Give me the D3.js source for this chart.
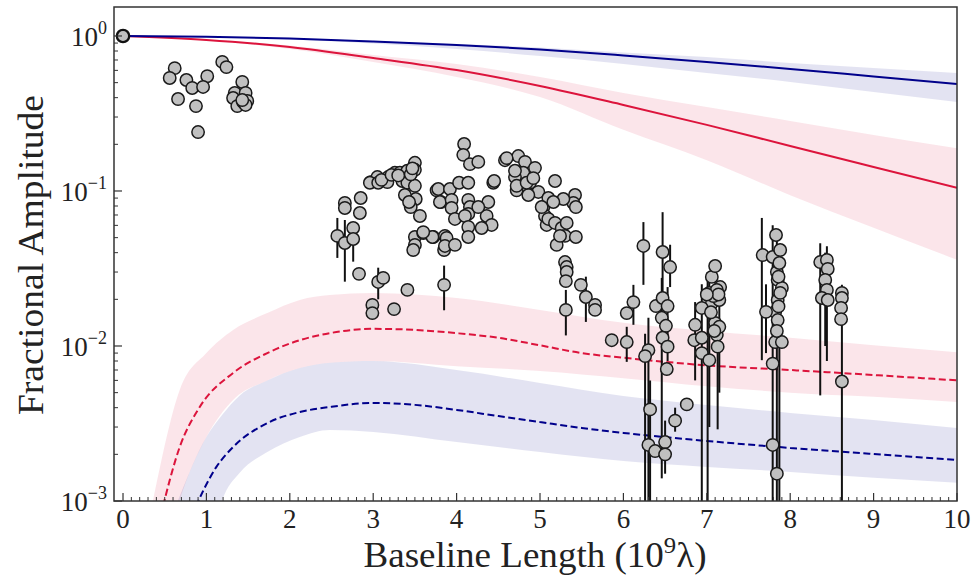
<!DOCTYPE html>
<html><head><meta charset="utf-8">
<script src="https://cdn.jsdelivr.net/npm/d3@7"></script>
<style>
body{margin:0;background:#fff}
svg{display:block}
text{font-family:"Liberation Serif","Times New Roman",serif;fill:#222}
</style>
</head><body>
<svg id="chart" width="972" height="579"></svg>
<script>
// ---------------- data ----------------
const xTicks = [0,1,2,3,4,5,6,7,8,9,10];
const yTickExponents = [0,-1,-2,-3];

// solid model curves (and their shaded ranges)
const solidX   = [0,1,2,3,4,5,6,7,8,9,10];
const blueLine = [1,0.988,0.963,0.922,0.875,0.818,0.749,0.68,0.613,0.548,0.49];
const blueHi   = [1,0.99,0.966,0.928,0.888,0.843,0.783,0.732,0.67,0.622,0.577];
const blueLo   = [1,0.985,0.949,0.895,0.824,0.743,0.66,0.577,0.505,0.435,0.375];
const redLine  = [1,0.942,0.849,0.721,0.603,0.476,0.359,0.267,0.195,0.143,0.105];
const redHi    = [1,0.949,0.868,0.754,0.66,0.544,0.429,0.348,0.283,0.23,0.189];
const redLo    = [1,0.935,0.824,0.68,0.544,0.404,0.248,0.158,0.094,0.058,0.036];

// dashed model curves
const redDashX = [0.45,0.68,0.92,1.32,1.73,2.12,2.48,3,3.5,4,4.5,5,5.5,6,7,8,9,10];
const redDash  = [0.0008,0.00223,0.00404,0.0067,0.009,0.0109,0.0121,0.0129,0.0127,0.0121,0.0113,0.0101,0.009,0.0084,0.0075,0.007,0.0065,0.006];
const blueDashX = [0.82,1.12,1.32,1.73,2.12,2.48,3,3.5,4,4.5,5,5.5,6,7,8,9,10];
const blueDash  = [0.0008,0.00166,0.00223,0.00318,0.00375,0.00404,0.00429,0.00417,0.00387,0.00353,0.00323,0.00296,0.00275,0.00244,0.0022,0.00201,0.00184];

// dashed shaded ranges
const redBandX  = [0.36,0.68,1.0,1.32,1.73,2.12,2.48,3,4,5,6,7,8,9,10];
const redBandHi = [0.00101,0.0052,0.009,0.0127,0.0163,0.0198,0.0213,0.022,0.0204,0.0171,0.0141,0.0125,0.0113,0.0101,0.0091];
const redBandLo = [0.0002,0.00101,0.00259,0.00449,0.006,0.0072,0.0078,0.008,0.0074,0.0069,0.0062,0.0055,0.005,0.0047,0.00435];
const blueBandX  = [0.66,1.0,1.19,1.4,1.73,2.12,2.48,3,4,5,6,7,8,9,10];
const blueBandHi = [0.00101,0.00259,0.0036,0.0048,0.006,0.0072,0.0078,0.008,0.007,0.00577,0.00476,0.00416,0.0037,0.00333,0.00296];
const blueBandLo = [0.0001,0.0004,0.00101,0.00152,0.00207,0.00259,0.00287,0.00279,0.0024,0.00207,0.00181,0.00166,0.00154,0.00141,0.00131];

// measured amplitudes [baseline, amplitude]
const zeroPoint = [0, 1.0];
const amplitudes = [
 [0.62,0.62],[0.56,0.536],[0.76,0.52],[1.01,0.55],[0.83,0.462],[0.96,0.469],[0.66,0.392],[0.875,0.353],[0.90,0.24],
 [1.19,0.68],[1.24,0.63],[1.43,0.505],[1.34,0.429],[1.47,0.429],[1.32,0.398],[1.37,0.353],[1.44,0.375],[1.49,0.381],[1.47,0.359],[1.43,0.386],
 [2.66,0.0837],[2.66,0.0777],[2.85,0.0901],[2.84,0.0721],[2.57,0.0513],[2.66,0.0462],[2.76,0.0577],[2.76,0.049],[2.83,0.0292],
 [3.06,0.0259],[3.12,0.0275],[2.99,0.0184],[2.99,0.0163],[3.25,0.0173],[3.41,0.023],
 [2.97,0.114],[3.05,0.123],[2.96,0.113],[3.18,0.123],[3.26,0.131],[3.32,0.131],[3.41,0.135],[3.50,0.152],[3.50,0.137],
 [3.17,0.114],[3.06,0.113],[3.35,0.116],[3.41,0.113],[3.50,0.108],[3.51,0.0888],[3.45,0.0788],[3.56,0.069],[3.38,0.0942],
 [3.43,0.0849],[3.50,0.0505],[3.60,0.0536],[3.72,0.0505],[3.50,0.0449],[3.48,0.0416],
 [3.10,0.118],[3.22,0.127],[3.30,0.126],[3.45,0.128],[3.47,0.14],
 [3.76,0.101],[3.81,0.0849],[3.86,0.0513],[3.85,0.0416],[3.85,0.0248],
 [4.09,0.201],[4.08,0.171],[4.16,0.149],[4.26,0.154],
 [3.78,0.103],[3.92,0.103],[4.03,0.113],[4.14,0.113],[3.80,0.0849],[3.94,0.0875],[3.94,0.0777],
 [4.14,0.0875],[4.16,0.0788],[4.14,0.0711],[3.98,0.066],[4.10,0.069],
 [4.38,0.0849],[4.36,0.069],[4.42,0.0604],[4.30,0.0577],[4.26,0.0788],[4.44,0.113],[4.45,0.116],
 [3.71,0.0505],[3.60,0.0543],[3.88,0.0498],[3.86,0.0442],[3.98,0.0449],[4.14,0.0586],[4.14,0.0505],
 [4.58,0.158],[4.74,0.168],[4.82,0.154],[4.94,0.141],[4.80,0.131],[4.70,0.123],[4.88,0.113],[4.98,0.0986],[4.72,0.101],
 [4.86,0.0942],[5.04,0.0788],[5.06,0.069],[5.08,0.0604],
 [4.60,0.163],[4.70,0.135],[4.72,0.108],[4.84,0.113],[4.92,0.121],[5.10,0.0901],[5.18,0.116],[5.02,0.0788],
 [5.10,0.066],[5.18,0.0622],[5.26,0.0577],[5.32,0.0622],[5.42,0.0942],[5.40,0.0837],[5.43,0.0788],[5.28,0.0888],
 [5.16,0.0849],[5.30,0.0513],[5.43,0.0505],[5.20,0.0449],[5.24,0.0513],
 [5.30,0.0348],[5.32,0.0323],[5.32,0.030],[5.31,0.0262],[5.49,0.0248],[5.55,0.0207],[5.66,0.0184],[5.66,0.0171],[5.31,0.0171],
 [5.86,0.0109],[6.04,0.0106],[6.04,0.0163],[6.12,0.0192],[6.24,0.0442],
 [6.30,0.0094],[6.26,0.0086],[6.32,0.0039],[6.30,0.0023],[6.38,0.0021],
 [6.47,0.0404],[6.56,0.0323],[6.39,0.0181],[6.47,0.0204],[6.53,0.0181],[6.46,0.0152],[6.51,0.0135],[6.47,0.0113],
 [6.53,0.0099],[6.52,0.0071],[6.50,0.0024],[6.50,0.002],[6.62,0.0033],[6.76,0.0042],
 [6.86,0.0137],[6.85,0.0109],[6.94,0.0113],[6.94,0.009],[7.03,0.0081],[7.12,0.0118],[7.13,0.0099],[7.10,0.0141],
 [7.06,0.0189],[6.94,0.0176],[7.03,0.022],[7.06,0.0279],[7.10,0.0328],[7.16,0.024],[7.15,0.0198],[7.15,0.0133],
 [7.08,0.021],[7.12,0.023],[7.14,0.0215],[7.00,0.0215],[7.05,0.0165],[7.09,0.0125],
 [7.67,0.0386],[7.79,0.0375],[7.88,0.0416],[7.84,0.030],[7.85,0.0267],[7.90,0.0237],[7.85,0.0198],[7.82,0.0166],
 [7.71,0.0166],[7.85,0.0147],[7.82,0.0106],[7.90,0.0106],[7.79,0.0077],[7.79,0.0023],[7.84,0.0015],
 [7.83,0.052],[7.87,0.0343],[7.86,0.028],[7.88,0.022],[7.86,0.018],[7.84,0.0125],
 [8.36,0.0348],[8.44,0.0359],[8.45,0.0314],[8.42,0.0267],[8.44,0.023],[8.38,0.0204],[8.45,0.0198],
 [8.62,0.022],[8.62,0.0204],[8.61,0.0176],[8.61,0.0149],[8.62,0.0059]
];

// error bars [baseline, low, high]
const errorBars = [
 [2.57,0.037,0.067],[2.66,0.026,0.065],[2.76,0.035,0.060],[3.06,0.020,0.032],[3.85,0.017,0.033],
 [5.31,0.0117,0.023],[5.55,0.0143,0.028],[6.04,0.0079,0.0133],[6.12,0.0137,0.0248],[6.24,0.0248,0.063],
 [6.30,0.0001,0.0152],[6.26,0.0001,0.012],[6.32,0.0001,0.006],[6.47,0.0198,0.073],[6.56,0.024,0.045],
 [6.46,0.0014,0.0275],[6.50,0.0015,0.0033],[6.53,0.008,0.024],[6.62,0.0028,0.004],[6.86,0.006,0.0192],
 [6.94,0.0001,0.025],[7.01,0.0001,0.030],[7.03,0.003,0.030],[7.13,0.0029,0.0147],[7.15,0.005,0.02],
 [7.66,0.0081,0.067],[7.71,0.009,0.025],[7.79,0.0001,0.06],[7.84,0.0001,0.05],[7.87,0.0001,0.045],
 [8.36,0.0048,0.046],[8.44,0.008,0.044],[8.42,0.01,0.04],[8.62,0.0001,0.0248]
];

// ---------------- chart ----------------
const P = {left:114, right:957, top:7, bottom:501};
const svg = d3.select("#chart");
const x = d3.scaleLinear().domain([-0.108,10]).range([P.left,P.right]);
const y = d3.scaleLog().domain([1e-3,1.538]).range([P.bottom,P.top]);

svg.append("clipPath").attr("id","clip").append("rect")
  .attr("x",P.left).attr("y",P.top).attr("width",P.right-P.left).attr("height",P.bottom-P.top);
const g = svg.append("g").attr("clip-path","url(#clip)");

const zip3 = (xs,lo,hi)=>xs.map((v,i)=>({x:v,lo:lo[i],hi:hi[i]}));
const zip2 = (xs,ys)=>xs.map((v,i)=>({x:v,y:ys[i]}));
const area = d3.area().x(d=>x(d.x)).y0(d=>y(d.lo)).y1(d=>y(d.hi)).curve(d3.curveMonotoneX);
const line = d3.line().x(d=>x(d.x)).y(d=>y(d.y)).curve(d3.curveMonotoneX);

const RED="#dc143c", BLUE="#00008b";
g.append("path").attr("d",area(zip3(solidX,redLo,redHi))).attr("fill",RED).attr("fill-opacity",0.11);
g.append("path").attr("d",area(zip3(solidX,blueLo,blueHi))).attr("fill",BLUE).attr("fill-opacity",0.11);
g.append("path").attr("d",area(zip3(redBandX,redBandLo,redBandHi))).attr("fill",RED).attr("fill-opacity",0.11);
g.append("path").attr("d",area(zip3(blueBandX,blueBandLo,blueBandHi))).attr("fill",BLUE).attr("fill-opacity",0.11);

g.append("path").attr("d",line(zip2(solidX,redLine))).attr("fill","none").attr("stroke",RED).attr("stroke-width",2);
g.append("path").attr("d",line(zip2(solidX,blueLine))).attr("fill","none").attr("stroke",BLUE).attr("stroke-width",2);
g.append("path").attr("d",line(zip2(redDashX,redDash))).attr("fill","none").attr("stroke",RED).attr("stroke-width",2).attr("stroke-dasharray","7,3.5");
g.append("path").attr("d",line(zip2(blueDashX,blueDash))).attr("fill","none").attr("stroke",BLUE).attr("stroke-width",2).attr("stroke-dasharray","7,3.5");

g.selectAll("line.err").data(errorBars).enter().append("line").attr("class","err")
  .attr("x1",d=>x(d[0])).attr("x2",d=>x(d[0]))
  .attr("y1",d=>y(d[1])).attr("y2",d=>y(d[2]))
  .attr("stroke","#111").attr("stroke-width",2);

g.selectAll("circle.pt").data(amplitudes).enter().append("circle").attr("class","pt")
  .attr("cx",d=>x(d[0])).attr("cy",d=>y(d[1])).attr("r",6.2)
  .attr("fill","#c0c0c0").attr("stroke","#1a1a1a").attr("stroke-width",1.5);
svg.append("circle").attr("cx",x(zeroPoint[0])).attr("cy",y(zeroPoint[1])).attr("r",6.2)
  .attr("fill","#c0c0c0").attr("stroke","#111").attr("stroke-width",2.3);

// frame
svg.append("rect").attr("x",P.left).attr("y",P.top).attr("width",P.right-P.left).attr("height",P.bottom-P.top)
  .attr("fill","none").attr("stroke","#333").attr("stroke-width",1.5);

// x ticks
const ax = svg.append("g");
const minorX = d3.range(0,100).map(i=>i/10).filter(v=>!xTicks.includes(v) && Math.abs(v-Math.round(v))>1e-6);
ax.selectAll("line.mnx").data(minorX).enter().append("line")
  .attr("x1",d=>x(d)).attr("x2",d=>x(d)).attr("y1",P.bottom).attr("y2",P.bottom-4)
  .attr("stroke","#333").attr("stroke-width",1);
ax.selectAll("line.mjx").data(xTicks).enter().append("line")
  .attr("x1",d=>x(d)).attr("x2",d=>x(d)).attr("y1",P.bottom).attr("y2",P.bottom-8)
  .attr("stroke","#333").attr("stroke-width",1.2);
ax.selectAll("text.xl").data(xTicks).enter().append("text")
  .attr("x",d=>x(d)).attr("y",528).attr("text-anchor","middle").attr("font-size",27).text(d=>d);

// y ticks
const minorY = [];
[-3,-2,-1,0].forEach(e=>{for(let k=2;k<=9;k++){const v=k*Math.pow(10,e); if(v<1.538) minorY.push(v);}});
ax.selectAll("line.mny").data(minorY).enter().append("line")
  .attr("x1",P.left).attr("x2",P.left+4).attr("y1",d=>y(d)).attr("y2",d=>y(d))
  .attr("stroke","#333").attr("stroke-width",1);
ax.selectAll("line.mjy").data(yTickExponents).enter().append("line")
  .attr("x1",P.left).attr("x2",P.left+8).attr("y1",d=>y(Math.pow(10,d))).attr("y2",d=>y(Math.pow(10,d)))
  .attr("stroke","#333").attr("stroke-width",1.2);
const yl = ax.selectAll("text.yl").data(yTickExponents).enter().append("text")
  .attr("x",107).attr("y",d=>y(Math.pow(10,d))+10).attr("text-anchor","end").attr("font-size",27);
yl.append("tspan").text("10");
yl.append("tspan").attr("font-size",18).attr("dy",-12).text(d=>d===0?"0":"\u2212"+(-d));

// axis titles
svg.append("text").attr("x",535).attr("y",567).attr("text-anchor","middle").attr("font-size",36)
  .attr("textLength",343).attr("lengthAdjust","spacingAndGlyphs")
  .html('Baseline Length (10<tspan font-size="24" dy="-14">9</tspan><tspan dy="14">λ)</tspan>');
svg.append("text").attr("transform","translate(43,255) rotate(-90)").attr("text-anchor","middle").attr("font-size",36)
  .attr("textLength",320).attr("lengthAdjust","spacingAndGlyphs").text("Fractional Amplitude");
</script>
</body></html>
